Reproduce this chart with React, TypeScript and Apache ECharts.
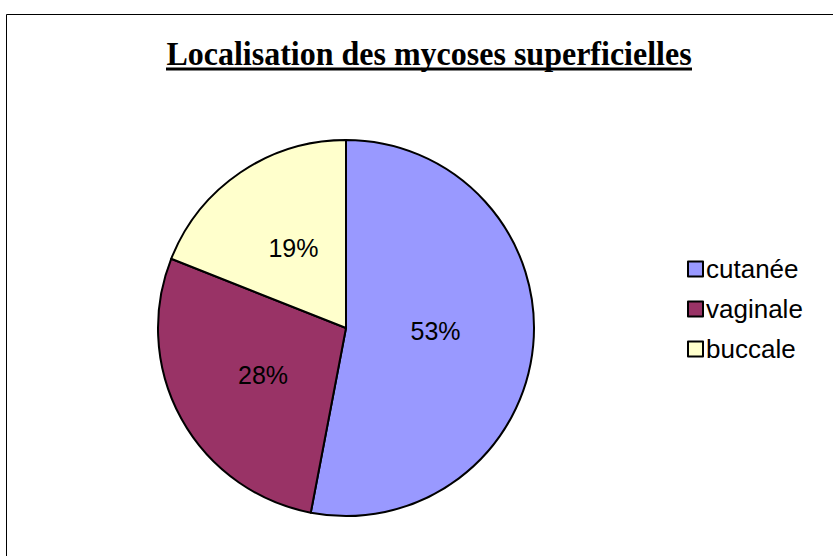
import React, { useEffect, useRef } from "react";
import * as echarts from "echarts";

const categories = ["cutanée", "vaginale", "buccale"];
const values = [53, 28, 19];
const colors = ["#9999FF", "#993366", "#FFFFCC"];
const titleText = "Localisation des mycoses superficielles";

export default function App() {
  const ref = useRef<HTMLDivElement>(null);
  useEffect(() => {
    const chart = echarts.init(ref.current!, null, { renderer: "svg" });
    chart.setOption({
      animation: false,
      backgroundColor: "#ffffff",
      graphic: [
        {
          type: "rect",
          shape: { x: 6.5, y: 14.5, width: 840, height: 560 },
          style: { fill: "none", stroke: "#000", lineWidth: 1 },
          silent: true,
        },
        {
          type: "text",
          x: 429,
          y: 70.5,
          scaleY: 1.06,
          style: {
            text: titleText,
            font: "bold 32px 'Liberation Serif', 'Times New Roman', serif",
            fill: "#000",
            align: "center",
            verticalAlign: "bottom",
          },
        },
        {
          type: "line",
          shape: { x1: 166, y1: 69, x2: 692, y2: 69 },
          style: { stroke: "#000", lineWidth: 3 },
        },
      ],
      legend: {
        orient: "vertical",
        left: 682,
        top: 251,
        itemWidth: 15,
        itemHeight: 15,
        itemGap: 14,
        icon: "rect",
        itemStyle: { borderColor: "#000", borderWidth: 2 },
        textStyle: {
          fontFamily: "'Liberation Sans', Arial, sans-serif",
          fontSize: 26,
          color: "#000",
          padding: [0, 0, 0, -2],
        },
        data: categories,
      },
      series: [
        {
          type: "pie",
          center: [346, 328],
          radius: 188,
          startAngle: 90,
          clockwise: true,
          data: categories.map((c, i) => ({
            name: c,
            value: values[i],
            itemStyle: { color: colors[i] },
          })),
          itemStyle: { borderColor: "#000", borderWidth: 2 },
          label: {
            position: "inside",
            formatter: "{d}%",
            fontFamily: "'Liberation Sans', Arial, sans-serif",
            fontSize: 25,
            color: "#000",
          },
          labelLayout: (p: any) =>
            p.dataIndex === 0 ? { dx: -7, dy: -6 } : { dx: 2, dy: 0 },
          labelLine: { show: false },
          emphasis: { disabled: true },
        },
      ],
    });
    return () => chart.dispose();
  }, []);
  return (
    <div
      ref={ref}
      style={{ position: "fixed", left: 0, top: 0, width: 833, height: 556 }}
    />
  );
}
